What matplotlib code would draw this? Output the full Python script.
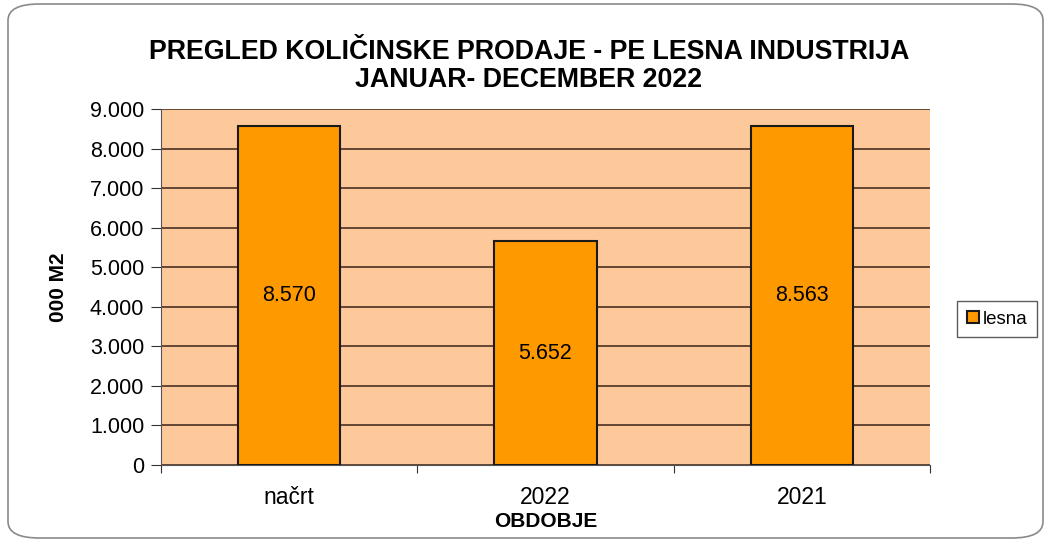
import matplotlib
matplotlib.use("Agg")
import matplotlib.pyplot as plt
from matplotlib.patches import FancyBboxPatch, Patch
from matplotlib.ticker import FuncFormatter, FixedLocator, NullFormatter

plt.rcParams['font.family'] = ['Liberation Sans', 'DejaVu Sans']

categories = ['načrt', '2022', '2021']
values = [8570, 5652, 8563]
value_labels = ['8.570', '5.652', '8.563']
series_name = 'lesna'
title_lines = ['PREGLED KOLIČINSKE PRODAJE - PE LESNA INDUSTRIJA',
               'JANUAR- DECEMBER 2022']

W, H = 1049, 544
fig = plt.figure(figsize=(W / 100, H / 100), dpi=100)
fig.patch.set_facecolor('white')

# rounded border
border = FancyBboxPatch((8 / W, 6 / H), 1 - 14 / W, 1 - 10 / H,
                        boxstyle="round,pad=0,rounding_size=0.03",
                        transform=fig.transFigure, fill=False,
                        edgecolor='#8a8a8a', linewidth=1.2)
fig.patches.append(border)

ax = fig.add_axes([161 / W, 1 - 465 / H, (930 - 161) / W, (465 - 109) / H])
ax.set_facecolor('#fdc99a')

x = range(len(categories))
ax.bar(x, values, width=0.4, color='#ff9900', edgecolor='#1a1a1a',
       linewidth=1.5, zorder=3, label=series_name)

for i, (v, lab) in enumerate(zip(values, value_labels)):
    ax.text(i, v / 2, lab, ha='center', va='center', fontsize=15.5, zorder=4)

ax.set_xlim(-0.5, len(categories) - 0.5)
ax.set_ylim(0, 9000)
ax.set_yticks(range(0, 9001, 1000))
ax.yaxis.set_major_formatter(FuncFormatter(lambda v, p: f"{int(v):,}".replace(',', '.')))
ax.grid(axis='y', color='#3a2418', linewidth=1.1, zorder=1)
ax.set_axisbelow(True)

# x ticks at category boundaries, labels at centers
ax.xaxis.set_major_locator(FixedLocator([-0.5, 0.5, 1.5, 2.5]))
ax.xaxis.set_major_formatter(NullFormatter())
ax.xaxis.set_minor_locator(FixedLocator(list(x)))
ax.set_xticklabels(categories, minor=True)
ax.tick_params(axis='x', which='minor', length=0, labelsize=16.5, pad=15)
ax.tick_params(axis='x', which='major', length=6, direction='out', color='#333333')
ax.tick_params(axis='y', length=7, direction='out', labelsize=15.5, color='#333333', pad=5)

for s in ['top', 'right']:
    ax.spines[s].set_visible(False)
ax.spines['left'].set_color('#555555')
ax.spines['bottom'].set_color('#555555')

ax.set_xlabel('OBDOBJE', fontsize=15, fontweight='bold', labelpad=2)
ax.set_ylabel('000 M2', fontsize=15, fontweight='bold', labelpad=16)

fig.text(529 / W, 1 - 52 / H, title_lines[0], ha='center', va='center',
         fontsize=19.3, fontweight='bold')
fig.text(529 / W, 1 - 80 / H, title_lines[1], ha='center', va='center',
         fontsize=19.3, fontweight='bold')

leg = fig.legend(handles=[Patch(facecolor='#ff9900', edgecolor='#1a1a1a', linewidth=1.5, label=series_name)],
                 loc='center', bbox_to_anchor=(997 / W, 1 - 319 / H),
                 fontsize=13.5, frameon=True, fancybox=False, handlelength=0.65,
                 handleheight=0.65, handletextpad=0.2, borderpad=0.5)
leg.get_frame().set_edgecolor('#333333')
leg.get_frame().set_linewidth(1.0)

fig.savefig('out.png', dpi=100)
